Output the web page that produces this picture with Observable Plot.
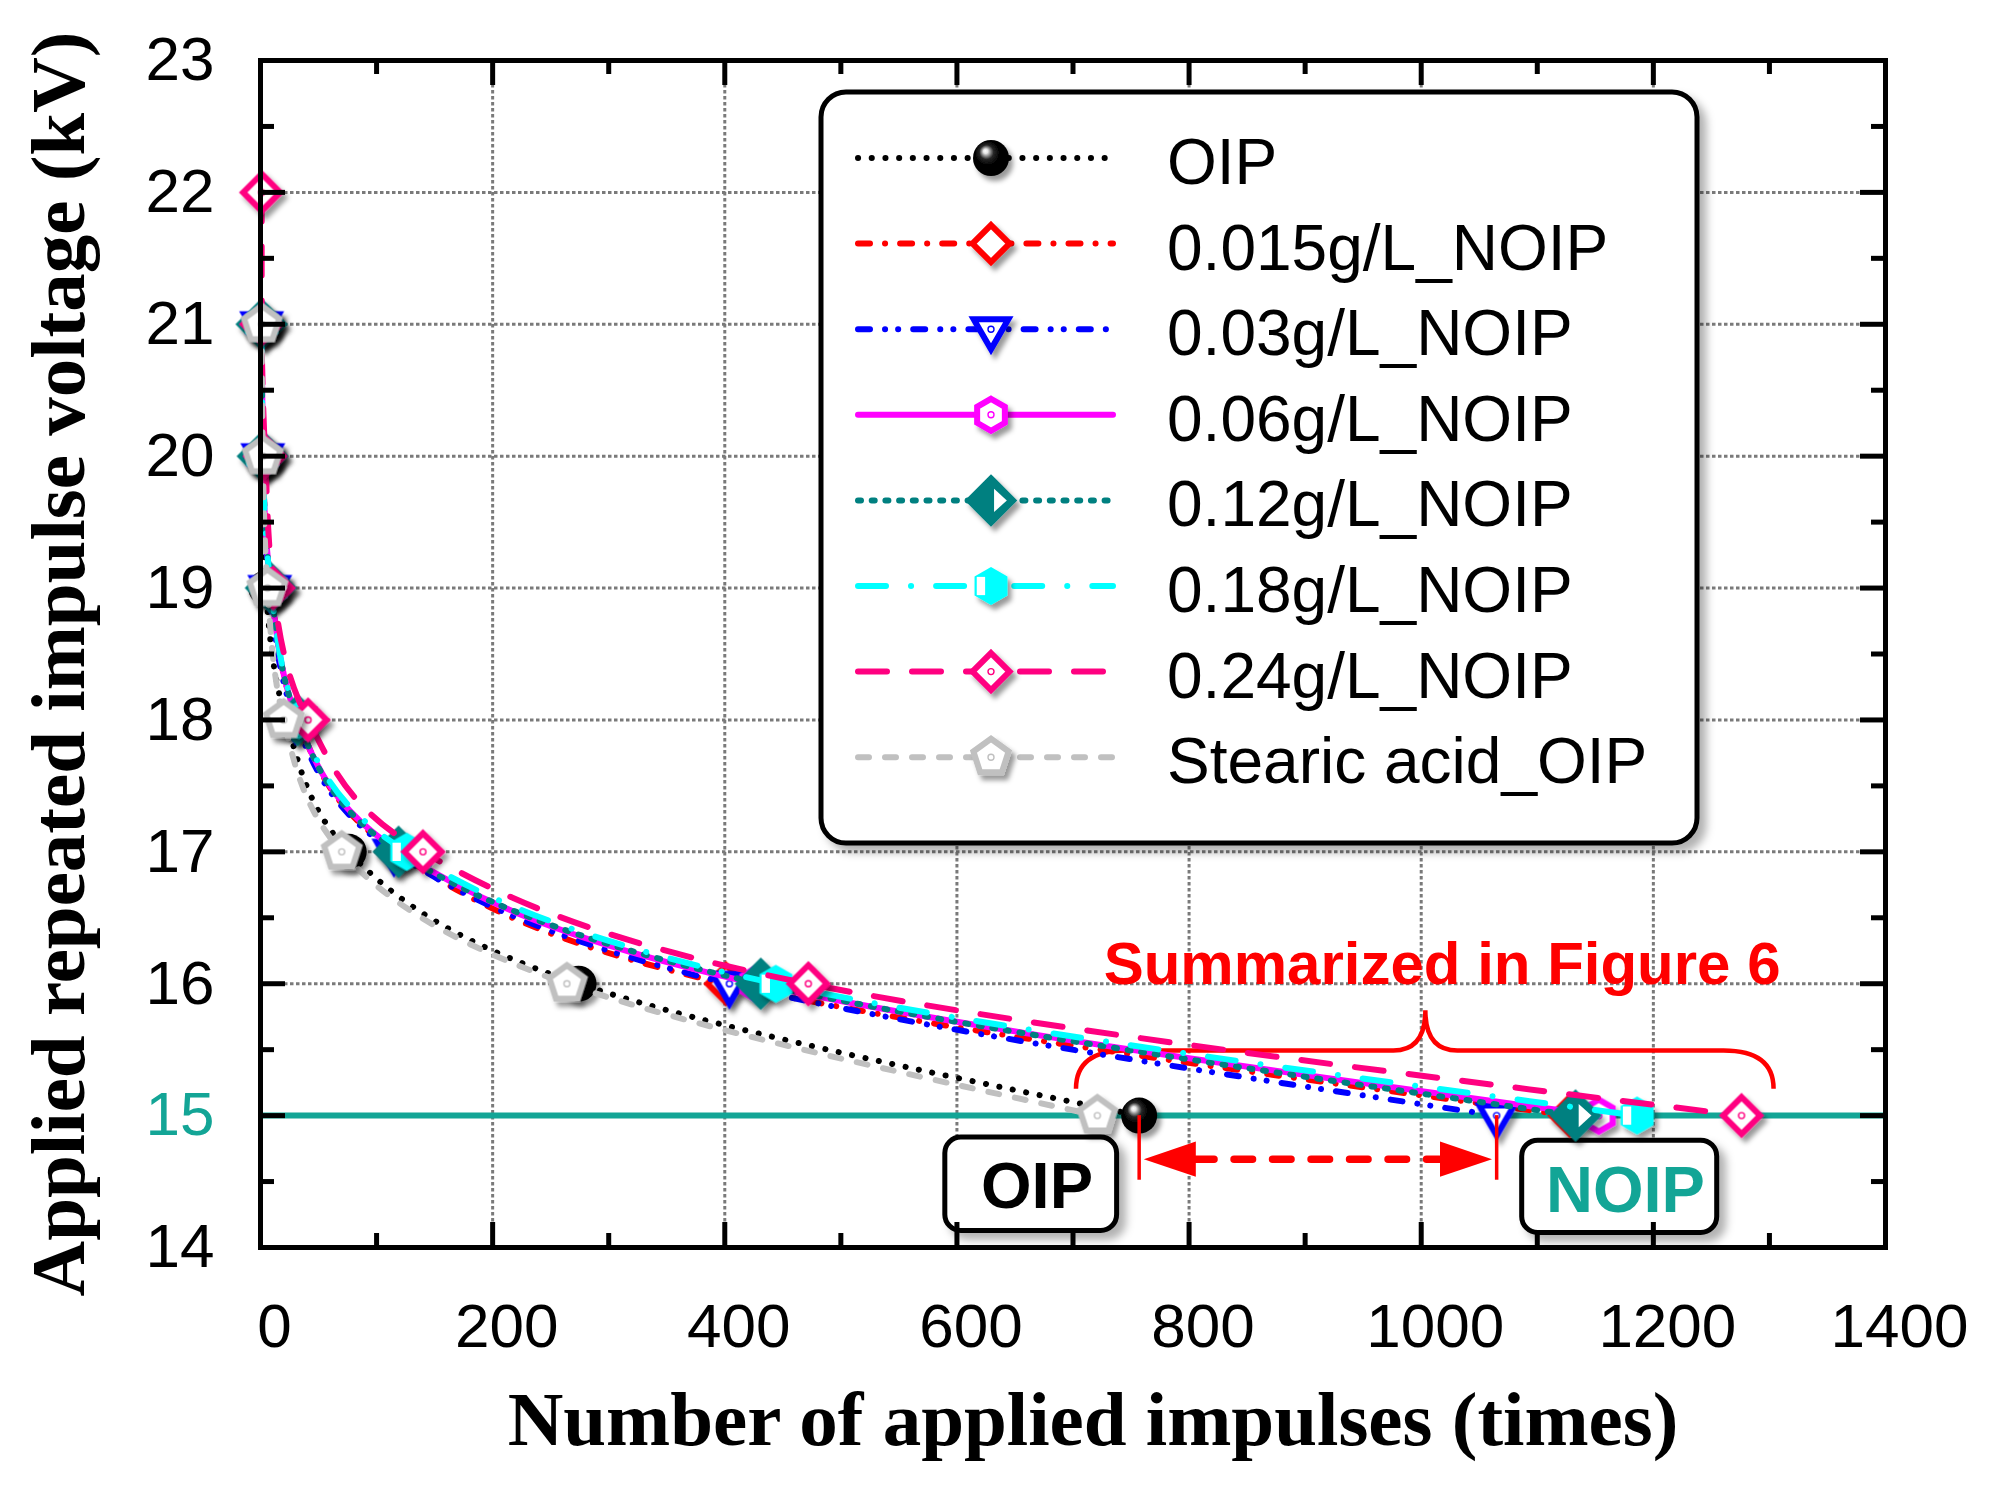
<!DOCTYPE html>
<html>
<head>
<meta charset="utf-8">
<title>Applied repeated impulse voltage</title>
<script src="https://cdn.jsdelivr.net/npm/d3@7"></script>
<script src="https://cdn.jsdelivr.net/npm/@observablehq/plot@0.6"></script>
<style>
  html, body { margin: 0; padding: 0; background: #fff; }
</style>
</head>
<body>
<div id="chart"></div>
<script>
// ---- data ----
const seriesNames = ["OIP", "0.015g/L_NOIP", "0.03g/L_NOIP", "0.06g/L_NOIP",
                     "0.12g/L_NOIP", "0.18g/L_NOIP", "0.24g/L_NOIP", "Stearic acid_OIP"];
const volts   = [21, 20, 19, 18, 17, 16, 15];
const volts24 = [22, 21, 20, 19, 18, 17, 16, 15];

const impOIP     = [1, 2, 5, 22, 76, 274, 757];
const imp015     = [1, 2, 9, 32, 117, 401, 1128];
const imp03      = [1, 2, 8, 30, 115, 404, 1065];
const imp06      = [1, 2, 9, 32, 120, 427, 1153];
const imp12      = [1, 2, 9, 32, 119, 431, 1133];
const imp18      = [1, 2, 9, 33, 126, 444, 1186];
const imp24      = [1, 1, 4, 11, 41, 140, 472, 1276];
const impStearic = [1, 2, 6, 20, 70, 264, 721];

const seriesImpulses = [impOIP, imp015, imp03, imp06, imp12, imp18, imp24, impStearic];
const seriesVolts    = [volts, volts, volts, volts, volts, volts, volts24, volts];

const xMajor = [0, 200, 400, 600, 800, 1000, 1200, 1400];
const xMinor = [100, 300, 500, 700, 900, 1100, 1300];
const yMajor = [14, 15, 16, 17, 18, 19, 20, 21, 22, 23];
const yMinor = [14.5, 15.5, 16.5, 17.5, 18.5, 19.5, 20.5, 21.5, 22.5];
const limitVolt = 15;

const rows = seriesNames.flatMap((name, i) =>
  seriesImpulses[i].map((n, j) => ({series: name, n, v: seriesVolts[i][j]})));

// ---- styles ----
const W = 2001, H = 1489;
const mL = 260, mR = 116, mT = 60, mB = 242;
const pw = W - mL - mR, ph = H - mT - mB;
const teal = "#13a596";
const lineW = 6, markW = 6;
const colors = ["#000000", "#ff0000", "#0000ff", "#ff00ff", "#008080", "#00ffff", "#ff0080", "#c0c0c0"];
const dashes = ["0.1 13.6", "12 15 0.1 15", "12 15 0.1 13 0.1 15", null,
                "3 10.7", "28 25 0.1 25", "29 25", "11 16"];

// custom marker shapes, radius taken from the symbol size
const rad = s => Math.sqrt(s / Math.PI);
function poly(c, r, n, a0) {
  for (let k = 0; k < n; k++) {
    const a = a0 + k * 2 * Math.PI / n;
    k ? c.lineTo(r * Math.cos(a), r * Math.sin(a)) : c.moveTo(r * Math.cos(a), r * Math.sin(a));
  }
  c.closePath();
}
function dotAt(c) { c.moveTo(0.7, 0); c.arc(0, 0, 0.7, 0, 2 * Math.PI); }
const symDiamond    = {draw(c, s) { poly(c, rad(s), 4, -Math.PI / 2); }};
const symDiamondDot = {draw(c, s) { poly(c, rad(s), 4, -Math.PI / 2); dotAt(c); }};
const symTriDot     = {draw(c, s) { poly(c, rad(s), 3, Math.PI / 2); dotAt(c); }};
const symHex        = {draw(c, s) { poly(c, rad(s), 6, -Math.PI / 2); }};
const symHexDot     = {draw(c, s) { poly(c, rad(s), 6, -Math.PI / 2); dotAt(c); }};
const symPentDot    = {draw(c, s) { poly(c, rad(s), 5, -Math.PI / 2); dotAt(c); }};
const symHalfRight  = {draw(c, s) { const r = rad(s);
  c.moveTo(0.14 * r, -0.53 * r); c.lineTo(0.72 * r, 0); c.lineTo(0.14 * r, 0.53 * r); c.closePath(); }};
const symSlit       = {draw(c, s) { const r = rad(s);
  c.rect(-0.75 * r, -0.48 * r, 0.44 * r, 0.96 * r); }};
const symHeadRight  = {draw(c, s) { const r = rad(s);
  c.moveTo(0, 0); c.lineTo(-r, -0.34 * r); c.lineTo(-r, 0.34 * r); c.closePath(); }};
const symHeadLeft   = {draw(c, s) { const r = rad(s);
  c.moveTo(0, 0); c.lineTo(r, -0.34 * r); c.lineTo(r, 0.34 * r); c.closePath(); }};

const markers = [
  {sym: d3.symbolCircle, r: 18, fill: "url(#sphere)", stroke: "none"},
  {sym: symDiamond, r: 18.5, fill: "white", stroke: colors[1]},
  {sym: symTriDot, r: 20, fill: "white", stroke: colors[2]},
  {sym: symHexDot, r: 16, fill: "white", stroke: colors[3]},
  {sym: symDiamond, r: 22, fill: colors[4], stroke: colors[4], inner: {sym: symHalfRight, fill: "white"}},
  {sym: symHex, r: 19, fill: colors[5], stroke: "none", inner: {sym: symSlit, fill: "white"}},
  {sym: symDiamondDot, r: 18.5, fill: "white", stroke: colors[6]},
  {sym: symPentDot, r: 18.5, fill: "white", stroke: colors[7]}
];

// ---- annotations (data coordinates) ----
const labelBoxes = [
  {x1: 590, x2: 738, y1: 14.834, y2: 14.126, text: "OIP", tx: 669, ty: 14.30, color: "black"},
  {x1: 1087, x2: 1255, y1: 14.81, y2: 14.11, text: "NOIP", tx: 1176, ty: 14.27, color: teal}
];
const brace = {x1: 703, x2: 1304, xc: 1004, yEnd: 15.2, yMid: 15.49, yTop: 15.795};
const summaryNote = {x: 1018, y: 16.0, text: "Summarized in Figure 6"};
const arrowY = 14.67, arrowLow = 14.51;
const arrowLeft = impOIP[impOIP.length - 1], arrowRight = imp03[imp03.length - 1];

function defsMark() {
  const defs = d3.create("svg:defs");
  const g = defs.append("radialGradient").attr("id", "sphere")
    .attr("cx", 0.45).attr("cy", 0.42).attr("r", 0.62).attr("fx", 0.34).attr("fy", 0.3);
  [[0, "#ffffff"], [0.1, "#e6e6e6"], [0.2, "#8c8c8c"], [0.32, "#262626"], [0.55, "#000"], [1, "#000"]]
    .forEach(([o, c]) => g.append("stop").attr("offset", o).attr("stop-color", c));
  const f = defs.append("filter").attr("id", "shadow").attr("x", "-50%").attr("y", "-50%")
    .attr("width", "200%").attr("height", "200%");
  f.append("feDropShadow").attr("dx", 4).attr("dy", 5).attr("stdDeviation", 2.5)
    .attr("flood-color", "#000").attr("flood-opacity", 0.4);
  const fb = defs.append("filter").attr("id", "boxshadow").attr("x", "-10%").attr("y", "-10%")
    .attr("width", "125%").attr("height", "125%");
  fb.append("feDropShadow").attr("dx", 7).attr("dy", 7).attr("stdDeviation", 4)
    .attr("flood-color", "#000").attr("flood-opacity", 0.3);
  return defs.node();
}

function scaleOf(scales) {
  const x = scales && typeof scales.x === "function" ? scales.x : d3.scaleLinear([0, 1400], [mL, W - mR]);
  const y = scales && typeof scales.y === "function" ? scales.y : d3.scaleLinear([14, 23], [H - mB, mT]);
  return {x, y};
}

function legendMark() {
  const g = d3.create("svg:g");
  g.append("rect").attr("x", 821).attr("y", 92).attr("width", 876).attr("height", 751).attr("rx", 25)
    .attr("fill", "white").attr("stroke", "black").attr("stroke-width", 5).attr("filter", "url(#boxshadow)");
  seriesNames.forEach((name, i) => {
    const y = 158 + i * 85.6, m = markers[i];
    g.append("line").attr("x1", 858).attr("x2", 1113).attr("y1", y).attr("y2", y)
      .attr("stroke", colors[i]).attr("stroke-width", lineW).attr("stroke-linecap", "round")
      .attr("stroke-dasharray", dashes[i]);
    g.append("path").attr("d", d3.symbol(m.sym, Math.PI * m.r * m.r)())
      .attr("transform", `translate(991,${y})`).attr("fill", m.fill).attr("stroke", m.stroke)
      .attr("stroke-width", markW).attr("filter", "url(#shadow)");
    if (m.inner) g.append("path").attr("d", d3.symbol(m.inner.sym, Math.PI * m.r * m.r)())
      .attr("transform", `translate(991,${y})`).attr("fill", m.inner.fill);
    g.append("text").attr("x", 1167).attr("y", y + 26).text(name)
      .attr("text-anchor", "start").attr("font-size", 64).attr("fill", "black");
  });
  return g.node();
}

function annotationMark(index, scales) {
  const {x, y} = scaleOf(scales);
  const g = d3.create("svg:g");
  const b = brace, r1 = 50, r2 = 32;
  const xl = x(b.x1), xr = x(b.x2), xc = x(b.xc), ye = y(b.yEnd), ym = y(b.yMid), yt = y(b.yTop);
  g.append("path")
    .attr("d", `M${xl},${ye} Q${xl},${ym} ${xl + r1},${ym} L${xc - r2},${ym} Q${xc},${ym} ${xc},${yt}` +
               ` Q${xc},${ym} ${xc + r2},${ym} L${xr - r1},${ym} Q${xr},${ym} ${xr},${ye}`)
    .attr("fill", "none").attr("stroke", "#ff0000").attr("stroke-width", 4.5);
  for (const bx of labelBoxes) {
    g.append("rect").attr("x", x(bx.x1)).attr("y", y(bx.y1))
      .attr("width", x(bx.x2) - x(bx.x1)).attr("height", y(bx.y2) - y(bx.y1)).attr("rx", 16)
      .attr("fill", "white").attr("stroke", "black").attr("stroke-width", 5).attr("filter", "url(#boxshadow)");
  }
  return g.node();
}

const seriesMarks = seriesNames.flatMap((name, i) => {
  const sd = rows.filter(d => d.series === name);
  const m = markers[i];
  const out = [
    Plot.line(sd, {x: "n", y: "v", stroke: colors[i], strokeWidth: lineW, strokeDasharray: dashes[i],
                   strokeLinecap: "round", curve: "monotone-y"}),
    Plot.dot(sd, {x: "n", y: "v", symbol: m.sym, r: m.r, fill: m.fill, stroke: m.stroke, strokeWidth: markW,
                  strokeLinejoin: "miter", ariaDescription: "marker"})
  ];
  if (m.inner) out.push(Plot.dot(sd, {x: "n", y: "v", symbol: m.inner.sym, r: m.r, fill: m.inner.fill}));
  return out;
});

const tickStyle = {stroke: "black", strokeWidth: 5};
const gridStyle = {stroke: "#7a7a7a", strokeWidth: 3, strokeDasharray: "3.5 2.5"};
const chart = Plot.plot({
  width: W, height: H,
  marginLeft: mL, marginRight: mR, marginTop: mT, marginBottom: mB,
  x: {domain: [0, 1400]},
  y: {domain: [14, 23]},
  style: {fontFamily: "'Liberation Sans', Arial, sans-serif", fontSize: "60px", background: "white", overflow: "visible"},
  marks: [
    defsMark,
    Plot.ruleX(xMajor.slice(1, -1), gridStyle),
    Plot.ruleY(yMajor.filter(v => v > limitVolt && v < 23), gridStyle),
    Plot.ruleY([limitVolt], {stroke: teal, strokeWidth: 6}),
    legendMark,
    annotationMark,
    Plot.text([summaryNote], {x: "x", y: "y", text: "text", fill: "#ff0000", fontWeight: "bold",
                              fontSize: 60, lineAnchor: "bottom", textAnchor: "middle"}),
    Plot.text(labelBoxes, {x: "tx", y: "ty", text: "text", fill: "color", fontWeight: "bold",
                           fontSize: 65, lineAnchor: "bottom", textAnchor: "middle"}),
    ...seriesMarks,
    // double-headed arrow between the OIP and NOIP end points
    Plot.ruleX([arrowLeft, arrowRight], {y1: limitVolt, y2: arrowLow, stroke: "#ff0000", strokeWidth: 3.5}),
    Plot.ruleY([arrowY], {x1: arrowLeft + 49, x2: arrowRight - 49, stroke: "#ff0000", strokeWidth: 7.5,
                          strokeDasharray: "18.5 20", strokeLinecap: "round"}),
    Plot.dot([arrowLeft + 4], {x: d => d, y: arrowY, symbol: symHeadLeft, r: 52, fill: "#ff0000"}),
    Plot.dot([arrowRight - 4], {x: d => d, y: arrowY, symbol: symHeadRight, r: 52, fill: "#ff0000"}),
    // inward ticks on all four sides
    Plot.ruleX(xMajor.slice(1, -1), {...tickStyle, insetTop: ph - 25}),
    Plot.ruleX(xMajor.slice(1, -1), {...tickStyle, insetBottom: ph - 25}),
    Plot.ruleX(xMinor, {...tickStyle, insetTop: ph - 14}),
    Plot.ruleX(xMinor, {...tickStyle, insetBottom: ph - 14}),
    Plot.ruleY(yMajor.slice(1, -1), {...tickStyle, insetRight: pw - 25}),
    Plot.ruleY(yMajor.slice(1, -1), {...tickStyle, insetLeft: pw - 25}),
    Plot.ruleY(yMinor, {...tickStyle, insetRight: pw - 14}),
    Plot.ruleY(yMinor, {...tickStyle, insetLeft: pw - 14}),
    Plot.frame({stroke: "black", strokeWidth: 5}),
    Plot.axisX({ticks: xMajor, tickSize: 0, tickPadding: 55, dx: 14, tickFormat: "d", label: null,
                fontSize: 62, fill: "black"}),
    Plot.axisY({ticks: yMajor.filter(v => v !== limitVolt), tickSize: 0, tickPadding: 46, label: null,
                fontSize: 62, fill: "black"}),
    Plot.axisY({ticks: [limitVolt], tickSize: 0, tickPadding: 46, label: null, fontSize: 62, fill: teal}),
    Plot.text(["Number of applied impulses (times)"], {text: d => d, frameAnchor: "bottom", dx: 20, dy: 197,
              lineAnchor: "bottom", textAnchor: "middle",
              fontFamily: "'Liberation Serif', 'Times New Roman', serif",
              fontWeight: "bold", fontSize: 77, fill: "black"}),
    Plot.text(["Applied repeated impulse voltage (kV)"], {text: d => d, frameAnchor: "left", dx: -177, dy: 10,
              rotate: -90, lineAnchor: "bottom", textAnchor: "middle",
              fontFamily: "'Liberation Serif', 'Times New Roman', serif",
              fontWeight: "bold", fontSize: 77, fill: "black"})
  ]
});

d3.select(chart).selectAll('g[aria-description="marker"]').attr("filter", "url(#shadow)");
d3.select("#chart").append(() => chart);
</script>
</body>
</html>
